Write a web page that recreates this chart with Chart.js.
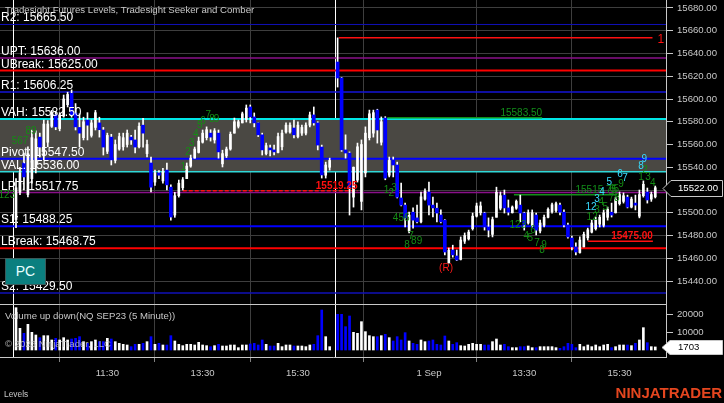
<!DOCTYPE html>
<html><head><meta charset="utf-8">
<script src="https://cdn.jsdelivr.net/npm/chart.js@4.4.0/dist/chart.umd.min.js"></script>
<style>
html,body{margin:0;padding:0;background:#000;width:724px;height:403px;overflow:hidden;font-family:"Liberation Sans",Arial,sans-serif;}
#wrap{position:relative;width:724px;height:403px;}
canvas{position:absolute;left:0;display:block;}
#pc{top:0;width:724px;height:304px;}
#vc{top:304px;width:724px;height:99px;}
.t{position:absolute;white-space:nowrap;line-height:1;}
</style></head><body>
<div id="wrap">
<canvas id="pc" width="724" height="304"></canvas>
<canvas id="vc" width="724" height="99"></canvas>
<div class="t" style="left:5px;top:5px;font-size:9.6px;color:#c8c8c8">Tradesight Futures Levels, Tradesight Seeker and Comber</div>
<div class="t" style="left:5px;top:311px;font-size:9.6px;color:#c8c8c8">Volume up down(NQ SEP23 (5 Minute))</div>
<div class="t" style="left:5px;top:339px;font-size:9.6px;color:rgba(200,200,200,0.85)">© 2023 NinjaTrader, LLC</div>
<div class="t" style="left:4px;top:390px;font-size:8.4px;color:#c8c8c8">Levels</div>
<div class="t" style="right:2px;top:385px;font-size:15px;font-weight:bold;color:#e5461f">NINJATRADER</div>
<div class="t" style="left:5px;top:258px;width:39px;height:25px;background:#0b7f7f;border:1px solid #3a5a5a;color:#e8ffff;font-size:14px;text-align:center;line-height:25px">PC</div>
</div>
<script>
// ---------- DATA ----------
// bar index 0..79 = 31 Aug session, 81..161 = 1 Sep session (80 = session break)
const opens = [15494,15518,15543.75,15516,15530,15540,15566.5,15550,15562,15576,
15586,15574,15585,15595,15605,15587.75,15575,15566,15581.5,15568,
15575,15579,15572.75,15554,15566.5,15546,15556,15558,15560,15566.5,
15564,15558,15577,15552,15543.75,15527,15535,15528,15537.5,15522.5,
15498,15515,15522,15530,15541,15548,15553,15562,15566,15570,
15564,15570,15543,15550,15556,15570,15576,15579,15582,15593,
15584.25,15579,15568.5,15552,15557,15555.25,15553,15558,15571,15571,
15574.5,15567,15570,15570,15577,15586,15579,15557.75,15533,15540,
null,
15632.5,15618.5,15555.25,15552.5,15513.75,15528.75,15510,15535,15566,
15570,15590.25,15562,15583.25,15533,15546.5,15542,15513,15506.75,15484,
15500.5,15495.5,15492,15512,15518.25,15506.75,15504,15498,15493.5,15456,
15467.25,15462,15459,15475,15477,15486,15497,15500,15499.75,15487.5,
15481,15496,15504,15515.5,15504.25,15500,15504,15506.75,15499.75,15491,
15489,15498,15484,15489,15496,15501,15502,15506.75,15500.5,15489.25,
15477.75,15470,15465,15470,15478,15483,15486,15490,15489,15496,
15500.5,15500,15508,15510,15513.75,15505,15508.5,15497,15515,15518.25,
15512,15514];
const highs = [15530,15540,15552.5,15558,15572.75,15572,15570,15581.5,15581,15590,
15589,15588,15603.5,15606,15608,15596,15587,15584,15588,15581.5,
15590,15584,15575,15570,15569,15564,15570,15570,15572.75,15568,
15572.75,15579,15583,15564,15549,15537.5,15537,15539,15543.75,15524.5,
15518,15528.75,15531,15543.75,15550.75,15557.75,15566.5,15572.75,15575.5,15573,
15574,15572.75,15555,15557.75,15571,15583.25,15581.5,15588.5,15594.75,15594.75,
15587.75,15579,15570,15561.25,15559.5,15559.5,15570,15572.75,15579,15579,
15581.5,15580,15577,15579,15588.5,15593,15580,15559.5,15544.5,15548,
null,
15653.75,15619,15568.5,15553.5,15540.25,15561.25,15564,15575.5,15590.25,
15590.25,15591,15584.25,15584.5,15549,15549,15544.5,15526,15508.5,15500.5,
15504.25,15506.75,15518.25,15521,15527,15513.75,15508.5,15502.5,15494,15469,
15471.5,15467.25,15478.75,15482.25,15484.75,15499.75,15508.5,15509.5,15500.5,15495.5,
15496.25,15522.5,15518.25,15520,15511.25,15506,15511.25,15515.5,15500.5,15502.5,
15502.5,15499.75,15493.5,15498,15504.25,15508.5,15509.5,15508.5,15502.5,15491,
15479.5,15473.5,15478.75,15483,15486.5,15493.5,15496.25,15498,15502.5,15505,
15508.5,15513.75,15518.25,15517.5,15515.5,15513.75,15515.5,15520,15528,15521.75,
15518.25,15523.5];
const lows = [15487,15516,15520,15514,15526,15535,15549,15546.5,15558,15575,
15573,15572,15584,15593,15584,15572.75,15558,15564,15564,15566.5,
15572.75,15566.5,15550.75,15552,15542,15543.75,15555,15555,15557.75,15560,
15552.5,15557,15557.75,15549,15518.25,15524,15530,15526,15520,15493.5,
15496,15513.75,15520,15530,15540,15548,15552.5,15561.25,15564,15563,
15561.25,15548,15540.25,15548.5,15555,15570,15574.5,15579,15579.75,15579,
15575.5,15567,15550.75,15550.75,15550,15550.75,15552.5,15555.25,15570,15570,
15565.75,15565.75,15568,15568.5,15575.5,15577,15555.25,15530.5,15530.5,15537.5,
null,
15610.5,15554,15548,15498,15505,15527,15502.5,15531.5,15564,
15566.5,15561.25,15559.5,15529,15531.5,15531.5,15513,15506,15487.5,15482.25,
15486.5,15491,15491,15511,15498,15496.25,15492,15491,15463,15455.75,
15461,15458,15458.5,15473,15476,15484.75,15496.25,15498,15484.75,15478.75,
15478.75,15496.25,15502.5,15499.75,15498,15499.75,15503,15492,15484.75,15490,
15487.5,15480.5,15482.25,15487.5,15495.5,15499.75,15500.5,15498,15487.5,15477.75,
15467.25,15463,15464.5,15470,15476,15482.25,15484.75,15487.5,15487.5,15493.5,
15496.25,15499.75,15506.75,15508.5,15504.25,15504.25,15502.5,15495.5,15513.75,15508.5,
15510,15513];
const closes = [15522,15535,15531.5,15552,15566,15565,15557.75,15578,15578,15588,
15575.5,15586,15600,15604,15586,15575.5,15570,15580,15577,15579,
15588,15573,15557.75,15568,15546.5,15560,15567,15566,15570,15564,
15557.75,15576,15570,15560,15522.5,15535,15533,15536,15524.5,15496.25,
15515,15526,15529,15541,15548,15556,15563,15570,15573,15566.5,
15572,15553.5,15552,15556,15569,15580,15580,15587,15592,15584.25,
15579,15568.5,15555.25,15559,15555.25,15553.5,15567,15570,15577,15577,
15568.5,15577,15575,15577,15586,15579,15559.5,15533.25,15542,15546,
null,
15618.5,15555.25,15552.5,15522.5,15540,15558,15560,15570,15587,
15588,15572.75,15580,15530.5,15546,15542,15513.75,15506.75,15495.5,15498,
15493.5,15492,15514,15519,15506.75,15504.25,15499.75,15492,15465.5,15467,
15463,15458.5,15476,15480,15483,15497,15506,15506,15487.5,15484.75,
15494,15518,15515,15504.25,15500.5,15505,15510,15499.75,15489.25,15500,
15500,15484.75,15491,15496,15503,15507,15508,15500.5,15489.25,15478.75,
15470,15465.5,15476,15481,15485,15491,15494,15496,15500,15503,
15498,15512,15516,15515,15505,15512,15506.75,15516,15525,15511.25,
15516,15522];
const volumes = [23520,12040,9260,14260,9820,8330,6850,7960,7960,5560,
6480,5560,6850,5560,6110,6480,7410,4630,3700,4630,
5560,4630,4630,6480,6110,4630,3700,3150,2780,1850,
3150,3150,3700,4630,7410,3150,3700,2780,2780,7960,
5000,3150,2410,3150,3150,2780,4260,2780,2410,1850,
2410,3150,2220,2220,2780,2780,1300,2780,2780,3330,
3700,2780,5560,3150,2220,2220,3700,1850,2780,2780,
2220,2220,2220,1850,2780,3150,7960,22220,7410,1850,
null,
19820,19820,12960,18890,9820,9260,15740,10190,7960,
7410,7410,7960,8700,6850,5000,7410,5560,9630,5000,
3700,3150,5560,4630,5000,5560,3150,2780,7780,5000,
3150,4070,2410,2220,3150,3700,3150,3150,2780,2780,
4630,6110,2780,3150,1850,1300,1300,1850,1850,2220,
1300,1300,1850,1850,1850,1850,1300,930,1850,3700,
3150,1300,3150,1850,2780,1850,2780,1850,2780,3150,
1300,1850,2780,2780,2780,2410,3700,5560,12410,4070,
1850,1703];

const timeTickBars = [23,47,71,104,128,152];
const timeTickLabels = ['11:30','13:30','15:30','1 Sep','13:30','15:30'];
const sessionBreaks = [-0.75, 80.25];
const priceTicks = [15440,15460,15480,15500,15520,15540,15560,15580,15600,15620,15640,15660,15680];
const volumeTicks = [10000,20000];

const levelNames  = ['R2','UPT','UBreak','R1','VAH','Pivot','VAL','LPT','S1','LBreak','S2'];
const levelValues = [15665.50,15636.00,15625.00,15606.25,15582.50,15547.50,15536.00,15517.75,15488.25,15468.75,15429.50];

const markValues = [15653.75,15583.50,15519.25,15515.75,15475.00];
const markStart  = [81.3,93.5,42,125.4,144];
const markEnd    = [160.3,132.5,86,151.4,160.4];
const markKind   = ['red','green','reddash','green','red'];

const countText  = ['123','567','89','1','2','3','4','5','6','7','8','9',
 '1','2','3','456','7','8','89',
 '123','6','4','5','7','9','8',
 '12','3','4','5','6','5','7','8','9','1','2','3','4',
 '12','3','4','5','6','7','8','9'];
const countBar   = [-2.3,1.0,3.8,42.1,43.3,44.3,45.3,46.3,47.1,48.4,49.4,50.5,
 93.3,94.5,95.2,97,99.5,98.5,100.9,
 126.4,130.2,128.5,129.5,131.2,133,132.5,
 145.1,146.3,147.4,148.4,150.2,151.2,149.9,151.3,152.4,157.4,158.4,159.2,160.4,
 144.8,146.3,147.6,149.4,152.1,153.4,157.4,158.2];
const countPrice = [15515.6,15563,15572,15540,15553.4,15561.3,15569.2,15577.1,15580.5,15585.9,15582.5,15582,
 15520,15517.4,15521.5,15495.4,15479.5,15471.6,15475,
 15489.2,15484.8,15479.6,15477.8,15473.4,15471.6,15467.3,
 15496.3,15502.4,15509.4,15505,15520.9,15520.9,15513,15513,15525.3,15531.4,15537.6,15531.4,15526.1,
 15505,15512,15518.2,15527,15534,15530.5,15541,15547.2];
const countKind  = ['g','g','g','g','g','g','g','g','g','g','g','g',
 'g','g','g','g','g','g','g',
 'g','g','g','g','g','g','g',
 'g','g','g','g','g','g','g','g','g','g','g','g','g',
 'c','c','c','c','c','c','c','c'];
const reversalBar = 108.3, reversalPrice = 15451.4;

// ---------- STYLE ----------
const FONT = '"Liberation Sans", Arial, sans-serif';
const levelColor = {R2:'#1010b8',UPT:'#8a108a',UBreak:'#ff0000',R1:'#1414d8',VAH:'#00e6e6',Pivot:'#0000ff',VAL:'#30d8d8',LPT:'#8a108a',S1:'#0000ff',LBreak:'#ff0000',S2:'#1010b8'};
const levelWidth = {R2:1,UPT:1.5,UBreak:2,R1:1.5,VAH:2,Pivot:2,VAL:1.5,LPT:1.5,S1:2,LBreak:2,S2:1.5};
const markColor = {red:'#ff1010',green:'#12901a',reddash:'#ff1010'};
const countColor = {g:'#148c14', c:'#38dcff'};
const UP='#ffffff', DOWN='#0000ff';
const XMIN=-4.03, XMAX=163.7;

const idx = opens.map((o,i)=>i).filter(i=>opens[i]!==null);
const isUp = i => closes[i] >= opens[i];

const priceDatasets = [];
priceDatasets.push({type:'line', data:[{x:XMIN-5,y:levelValues[4]},{x:XMAX+5,y:levelValues[4]}],
  fill:{value:levelValues[6]}, backgroundColor:'#4a4843', borderWidth:0, pointRadius:0, order:20});
levelNames.forEach((n,k)=>{
  priceDatasets.push({type:'line', data:[{x:XMIN-5,y:levelValues[k]},{x:XMAX+5,y:levelValues[k]}],
    borderColor:levelColor[n], borderWidth:levelWidth[n], pointRadius:0, fill:false, order:10});
});
markValues.forEach((v,k)=>{
  priceDatasets.push({type:'line', data:[{x:markStart[k],y:v},{x:markEnd[k],y:v}],
    borderColor:markColor[markKind[k]], borderWidth:1.5,
    borderDash: markKind[k]==='reddash'?[4,2]:[], pointRadius:0, fill:false, order:9});
});
priceDatasets.push({type:'bar', data: idx.map(i=>({x:i,y:[lows[i],highs[i]]})),
  backgroundColor:'#ffffff', barThickness:1, grouped:false, order:3});
priceDatasets.push({type:'bar', data: idx.filter(isUp).map(i=>({x:i,y:[opens[i],closes[i]]})),
  backgroundColor:UP, barThickness:2, minBarLength:1, grouped:false, order:2});
priceDatasets.push({type:'bar', data: idx.filter(i=>!isUp(i)).map(i=>({x:i,y:[opens[i],closes[i]]})),
  backgroundColor:DOWN, barThickness:3, minBarLength:1, grouped:false, order:1});

const priceExtras = {
  id:'priceExtras',
  beforeDatasetsDraw(chart){
    const {ctx, chartArea:a, scales:{x}} = chart;
    ctx.save(); ctx.strokeStyle='#ffffff'; ctx.lineWidth=1;
    sessionBreaks.forEach(b=>{const px=Math.round(x.getPixelForValue(b))+0.5; ctx.beginPath(); ctx.moveTo(px,a.top); ctx.lineTo(px,a.bottom); ctx.stroke();});
    ctx.restore();
  },
  afterDatasetsDraw(chart){
    const {ctx, scales:{x,y}} = chart;
    ctx.save();
    ctx.textAlign='left'; ctx.textBaseline='alphabetic';
    ctx.font='12px '+FONT; ctx.fillStyle='#ffffff';
    levelNames.forEach((n,k)=>{
      ctx.fillText(n+': '+levelValues[k].toFixed(2), 1, Math.round(y.getPixelForValue(levelValues[k]))-3);
    });
    markValues.forEach((v,k)=>{
      const py=y.getPixelForValue(v);
      ctx.fillStyle=markColor[markKind[k]];
      if (k===0){
        ctx.font='12px '+FONT; ctx.textAlign='left'; ctx.textBaseline='middle';
        ctx.fillText('1', x.getPixelForValue(markEnd[k])+5, py+2);
      } else {
        ctx.font=(markKind[k]==='green'?'':'bold ')+'10px '+FONT; ctx.textAlign='right'; ctx.textBaseline='alphabetic';
        ctx.fillText(v.toFixed(2), x.getPixelForValue(markEnd[k]), py-2);
      }
    });
    ctx.font='10px '+FONT; ctx.textAlign='center'; ctx.textBaseline='middle';
    countText.forEach((t,k)=>{
      ctx.fillStyle=countColor[countKind[k]];
      ctx.fillText(t, x.getPixelForValue(countBar[k]), y.getPixelForValue(countPrice[k]));
    });
    ctx.fillStyle='#ff1a1a'; ctx.font='10px '+FONT;
    ctx.fillText('(R)', x.getPixelForValue(reversalBar), y.getPixelForValue(reversalPrice));
    ctx.restore();
  },
  afterDraw(chart){
    const {ctx, chartArea:a, scales:{y}} = chart;
    const last = closes[closes.length-1];
    const yc = Math.round(y.getPixelForValue(last))+0.5;
    ctx.save();
    ctx.beginPath(); ctx.moveTo(a.right-3,yc); ctx.lineTo(a.right+5,yc-8); ctx.lineTo(722.5,yc-8); ctx.lineTo(722.5,yc+8); ctx.lineTo(a.right+5,yc+8); ctx.closePath();
    ctx.fillStyle='#000'; ctx.fill(); ctx.strokeStyle='#c8c8c8'; ctx.lineWidth=1; ctx.stroke();
    ctx.fillStyle='#ffffff'; ctx.font='9.6px '+FONT; ctx.textAlign='left'; ctx.textBaseline='middle';
    ctx.fillText(last.toFixed(2), a.right+12, yc);
    ctx.restore();
  }
};

const zeroPad = s => { s.paddingTop=0; s.paddingBottom=0; s.paddingLeft=0; s.paddingRight=0; };

new Chart(document.getElementById('pc'), {
  type:'bar',
  data:{datasets:priceDatasets},
  options:{
    responsive:false, animation:false, events:[],
    layout:{padding:0},
    plugins:{legend:{display:false}, tooltip:{enabled:false}},
    scales:{
      x:{type:'linear', position:'bottom', min:XMIN, max:XMAX, offset:false,
         afterBuildTicks:s=>{s.ticks=timeTickBars.map(v=>({value:v}));},
         afterFit:s=>{s.height=0; zeroPad(s);},
         ticks:{display:false}, border:{display:false},
         grid:{color:'#3e3e3e', drawTicks:false, lineWidth:1}},
      y:{type:'linear', position:'right', min:15419.8, max:15687.03,
         afterBuildTicks:s=>{s.ticks=priceTicks.map(v=>({value:v}));},
         afterFit:s=>{s.width=58; zeroPad(s);},
         ticks:{color:'#c8c8c8', font:{family:'Liberation Sans', size:9.6}, padding:4, autoSkip:false,
                callback:v=>Number(v).toFixed(2)},
         border:{color:'#c8c8c8', width:1},
         grid:{color:'#3e3e3e', tickColor:'#c8c8c8', tickLength:7, lineWidth:1}}
    }
  },
  plugins:[priceExtras]
});

const volExtras = {
  id:'volExtras',
  beforeDatasetsDraw(chart){
    const {ctx, chartArea:a, scales:{x}} = chart;
    ctx.save(); ctx.strokeStyle='#ffffff'; ctx.lineWidth=1;
    sessionBreaks.forEach(b=>{const px=Math.round(x.getPixelForValue(b))+0.5; ctx.beginPath(); ctx.moveTo(px,a.top); ctx.lineTo(px,a.bottom); ctx.stroke();});
    ctx.restore();
  },
  afterDraw(chart){
    const {ctx, chartArea:a, scales:{y}} = chart;
    ctx.save();
    ctx.strokeStyle='#c8c8c8'; ctx.lineWidth=1;
    ctx.beginPath(); ctx.moveTo(0,a.top+0.5); ctx.lineTo(a.right,a.top+0.5); ctx.stroke();
    const lastV = volumes[volumes.length-1];
    const yc = Math.round(y.getPixelForValue(lastV))+0.5;
    ctx.beginPath(); ctx.moveTo(a.right-4,yc); ctx.lineTo(a.right+4,yc-7); ctx.lineTo(722.5,yc-7); ctx.lineTo(722.5,yc+7); ctx.lineTo(a.right+4,yc+7); ctx.closePath();
    ctx.fillStyle='#ffffff'; ctx.fill(); ctx.strokeStyle='#c8c8c8'; ctx.stroke();
    ctx.fillStyle='#000'; ctx.font='9.6px '+FONT; ctx.textAlign='left'; ctx.textBaseline='middle';
    ctx.fillText(String(lastV), a.right+12, yc);
    ctx.restore();
  }
};

new Chart(document.getElementById('vc'), {
  type:'bar',
  data:{datasets:[{data: idx.map(i=>({x:i,y:volumes[i]})),
    backgroundColor: idx.map(i=>isUp(i)?UP:DOWN), barThickness:2, grouped:false}]},
  options:{
    responsive:false, animation:false, events:[],
    layout:{padding:0},
    plugins:{legend:{display:false}, tooltip:{enabled:false}},
    scales:{
      x:{type:'linear', position:'bottom', min:XMIN, max:XMAX, offset:false,
         afterBuildTicks:s=>{s.ticks=timeTickBars.map(v=>({value:v}));},
         afterFit:s=>{s.height=46; zeroPad(s);},
         ticks:{color:'#c8c8c8', font:{family:'Liberation Sans', size:9.6}, padding:6, autoSkip:false, maxRotation:0,
                callback:(v,i)=>timeTickLabels[i]},
         border:{color:'#c8c8c8', width:1},
         grid:{color:'#3e3e3e', tickColor:'#808080', tickLength:5, lineWidth:1}},
      y:{type:'linear', position:'right', min:-3890, max:25560,
         afterBuildTicks:s=>{s.ticks=volumeTicks.map(v=>({value:v}));},
         afterFit:s=>{s.width=58; zeroPad(s);},
         ticks:{color:'#c8c8c8', font:{family:'Liberation Sans', size:9.6}, padding:4, autoSkip:false,
                callback:v=>String(v)},
         border:{color:'#c8c8c8', width:1},
         grid:{drawOnChartArea:false, tickColor:'#c8c8c8', tickLength:7}}
    }
  },
  plugins:[volExtras]
});
</script>
</body></html>
